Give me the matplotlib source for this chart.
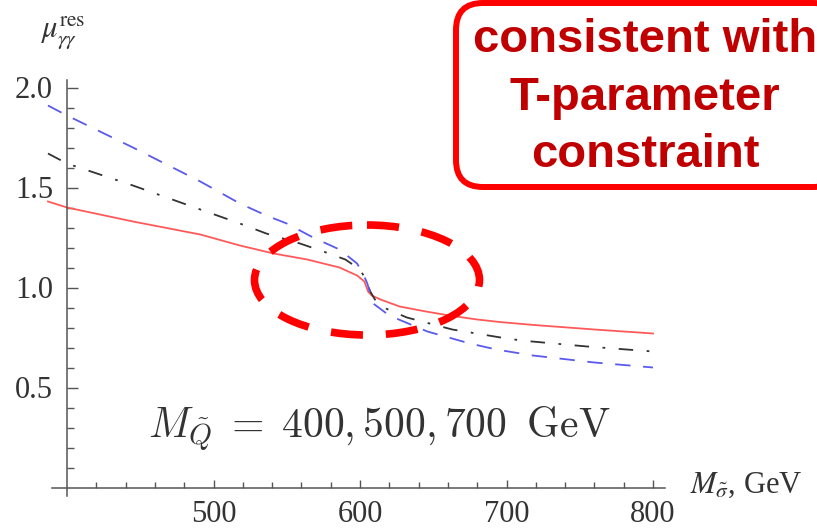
import numpy as np
import matplotlib.pyplot as plt
from matplotlib.patches import Ellipse, FancyBboxPatch

# curves (M_sigma in GeV, mu_res)
red_x = [387, 400, 445, 491, 518, 541, 564, 586, 598, 603, 605.5, 608, 614, 627, 645, 661, 680, 696, 718, 760, 800]
red_y = [1.43, 1.40, 1.33, 1.265, 1.21, 1.17, 1.14, 1.10, 1.06, 1.03, 0.98, 0.96, 0.94, 0.905, 0.88, 0.86, 0.84, 0.827, 0.813, 0.79, 0.77]

black_x = [387, 400, 445, 491, 518, 536, 559, 575, 590, 600, 604, 607, 611, 616, 632, 663, 696, 710, 755, 800]
black_y = [1.67, 1.62, 1.51, 1.39, 1.32, 1.27, 1.22, 1.18, 1.14, 1.09, 1.04, 0.98, 0.93, 0.90, 0.85, 0.79, 0.75, 0.735, 0.705, 0.68]

blue_x = [387, 400, 445, 491, 518, 536, 550, 568, 586, 598, 602, 605, 609, 620, 646, 675, 693, 718, 760, 800]
blue_y = [1.91, 1.86, 1.70, 1.53, 1.42, 1.36, 1.32, 1.25, 1.19, 1.12, 1.07, 1.02, 0.92, 0.86, 0.78, 0.72, 0.69, 0.66, 0.625, 0.60]

x_major = [500, 600, 700, 800]
x_minor = [420, 440, 460, 480, 520, 540, 560, 580, 620, 640, 660, 680, 720, 740, 760, 780]
y_major = [0.5, 1.0, 1.5, 2.0]
y_minor = [0.1, 0.2, 0.3, 0.4, 0.6, 0.7, 0.8, 0.9, 1.1, 1.2, 1.3, 1.4, 1.6, 1.7, 1.8, 1.9]

note_text = r'$M_{\tilde{Q}}\;=\;400, 500, 700\;\;\mathrm{GeV}$'
box_lines = ['consistent with', 'T-parameter', 'constraint']

W, H = 817, 529


def px(x):
    return 67 + (x - 400) * 1.465


def py(y):
    return 487.5 - 200 * y


xlo, xhi = 380, 820
ylo, yhi = -0.1, 2.2

fig = plt.figure(figsize=(W / 100, H / 100), dpi=100)
ax = fig.add_axes([px(xlo) / W, 1 - py(ylo) / H,
                   (px(xhi) - px(xlo)) / W, (py(ylo) - py(yhi)) / H])
ax.set_xlim(xlo, xhi)
ax.set_ylim(ylo, yhi)

ax.plot(red_x, red_y, color='#ff5a5a', lw=1.3)
ax.plot(black_x, black_y, color='#333333', lw=1.3, dashes=(8, 7.5, 1.5, 7.5))
ax.plot(blue_x, blue_y, color='#5a5aee', lw=1.3, dashes=(8.5, 7))

for s in ['top', 'right']:
    ax.spines[s].set_visible(False)
ax.spines['left'].set_position(('data', 400))
ax.spines['bottom'].set_position(('data', 0))
ax.spines['left'].set_bounds(-0.04, 2.04)
ax.spines['bottom'].set_bounds(390, 808)
for s in ['left', 'bottom']:
    ax.spines[s].set_color('#555555')
    ax.spines[s].set_linewidth(1.1)

ax.set_xticks(x_major)
ax.set_xticks(x_minor, minor=True)
ax.set_yticks(y_major)
ax.set_yticks(y_minor, minor=True)
ax.set_xticklabels([str(v) for v in x_major])
ax.set_yticklabels(['%.1f' % v for v in y_major])
ax.tick_params(axis='both', which='both', direction='in', color='#555555', width=1,
               labelcolor='#333333', labelsize=22)
ax.tick_params(axis='y', which='major', length=8, pad=10)
ax.tick_params(axis='y', which='minor', length=5)
ax.tick_params(axis='x', which='major', length=6, pad=9)
ax.tick_params(axis='x', which='minor', length=4)
for lab in ax.get_xticklabels() + ax.get_yticklabels():
    lab.set_family('Liberation Serif')

# overlay in pixel coordinates for labels and annotations
ov = fig.add_axes([0, 0, 1, 1], facecolor='none')
ov.set_xlim(0, W)
ov.set_ylim(H, 0)
ov.axis('off')

ov.text(40, 33, r'$\mu_{\gamma\gamma}^{\mathrm{res}}$', fontsize=22, color='#333333',
        ha='left', va='center', math_fontfamily='stix')
ov.text(690, 493, r'$M_{\tilde{\sigma}}$, GeV', fontsize=22, color='#333333',
        ha='left', va='baseline', family='Liberation Serif', math_fontfamily='stix')
ov.text(148, 438, note_text, fontsize=30, color='#333333', ha='left', va='baseline',
        math_fontfamily='cm')

ov.add_patch(Ellipse((367, 280), 225, 110, fill=False, edgecolor='#ff0000', lw=5.5,
                     linestyle=(0, (4.2, 3.0))))

ov.add_patch(FancyBboxPatch((456, 3), 384, 184, boxstyle='round,pad=0,rounding_size=27',
                            facecolor='white', edgecolor='#ff0000', lw=4.3, clip_on=False))
for line, base in zip(box_lines, [52, 110, 167]):
    ov.text(645, base, line, fontsize=34, color='#c00000', fontweight='bold',
            family='Liberation Sans', ha='center', va='baseline')

fig.savefig('out.png', dpi=100)
